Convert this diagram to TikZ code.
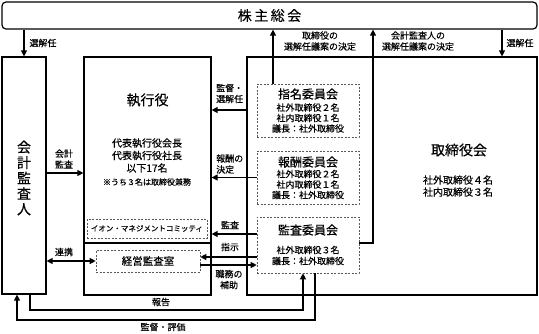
\documentclass[tikz,border=0pt]{standalone}
\usepackage{fontspec}
\setmainfont{Noto Sans CJK JP}[FakeBold=0.35]
\usetikzlibrary{arrows.meta}
\tikzset{
  box/.style={draw, line width=1.2pt, inner sep=0pt},
  dbox/.style={draw=black!65, dash pattern=on 2pt off 1.5pt, line width=0.6pt, inner sep=0pt},
  arr/.style={line width=1.2pt, -{Triangle[length=6pt,width=6pt]}},
  darr/.style={line width=1.2pt, {Triangle[length=6pt,width=6pt]}-{Triangle[length=6pt,width=6pt]}},
  lbl/.style={font=\fontsize{9}{11}\selectfont, align=center, inner sep=0pt},
  ttl/.style={font=\fontsize{14}{16}\selectfont, inner sep=0pt},
  cttl/.style={font=\fontsize{12}{14}\selectfont, inner sep=0pt},
  cdet/.style={font=\fontsize{9}{10.5}\selectfont, align=center, inner sep=0pt},
}
\begin{document}
\begin{tikzpicture}[x=1pt,y=-1pt]
\useasboundingbox (0,0) rectangle (539,333);
% helper coordinates
\coordinate (x17) at (17,0);
\coordinate (x30) at (30,0);
\coordinate (x273) at (273,0);
\coordinate (x303) at (303,0);
\coordinate (x315) at (315,0);
\coordinate (x373) at (373,0);
\coordinate (x502) at (502,0);
\coordinate (y110) at (0,110);
\coordinate (y173) at (0,173);
\coordinate (y234) at (0,234);
\coordinate (y243) at (0,243);
\coordinate (y257) at (0,257);
\coordinate (y265) at (0,265);
\coordinate (y310) at (0,310);
\coordinate (y320) at (0,320);

% main boxes
\node[box, rounded corners=4pt, minimum width=535pt, minimum height=27pt,
      font=\fontsize{14}{16}\selectfont] (gm) at (269.5,15.5) {株\kern2.5pt 主\kern2.5pt 総\kern2.5pt 会};

\node[box, minimum width=44pt, minimum height=237pt] (aud) at (24,175.5) {};
\node[font=\fontsize{14}{15.5}\selectfont, align=center, inner sep=0pt] (audt) at (24,178) {会\\計\\監\\査\\人};

\node[box, minimum width=127pt, minimum height=238pt] (exec) at (147.5,176) {};
\draw[line width=1.2pt] (exec.west |- y243) -- (exec.east |- y243);
\node[ttl] (exect) at (147.5,100) {執行役};
\node[font=\fontsize{10}{12.5}\selectfont, align=center, inner sep=0pt] (execd) at (147,155.5) {代表執行役会長\\代表執行役社長\\以下17名};
\node[font=\fontsize{8}{10}\selectfont, inner sep=0pt] (execn) at (147,182) {※うち３名は取締役兼務};
\node[dbox, minimum width=120pt, minimum height=19pt, font=\fontsize{7.5}{9}\selectfont] (aeon) at (147,228.5) {イオン・マネジメントコミッティ};
\node[dbox, minimum width=104pt, minimum height=22pt, font=\fontsize{10.5}{12}\selectfont] (mao) at (148,261) {経営監査室};

\node[box, minimum width=290pt, minimum height=238pt] (board) at (392,176) {};
\node[ttl] (boardt) at (459,150) {取締役会};
\node[font=\fontsize{10}{12}\selectfont, align=center, inner sep=0pt] (boardd) at (458,186) {社外取締役４名\\社内取締役３名};

% committees
\node[dbox, minimum width=102pt, minimum height=53pt] (nom) at (308,110.5) {};
\node[cttl] (nomt) at (308,94) {指名委員会};
\node[cdet] (nomd) at (308,118) {社外取締役２名\\社内取締役１名\\議長：社外取締役};

\node[dbox, minimum width=102pt, minimum height=53pt] (rem) at (308,177.5) {};
\node[cttl] (remt) at (308,162) {報酬委員会};
\node[cdet] (remd) at (308,184.5) {社外取締役２名\\社内取締役１名\\議長：社外取締役};

\node[dbox, minimum width=102pt, minimum height=56pt] (audc) at (308,245) {};
\node[cttl] (audct) at (308,230) {監査委員会};
\node[font=\fontsize{9}{11}\selectfont, align=center, inner sep=0pt] (audcd) at (308,255.5) {社外取締役３名\\議長：社外取締役};

% connectors
\draw[arr] (aud.north |- gm.south) -- (aud.north);
\draw[arr] (x502 |- gm.south) -- (x502 |- board.north);
\draw[arr] (x273 |- nom.north) -- (x273 |- gm.south);
\draw[arr] (audc.east |- y243) -- (x373 |- y243) -- (x373 |- gm.south);
\draw[arr] (board.west |- y110) -- (exec.east |- y110);
\draw[arr] (rem.west) -- (exec.east |- rem.west);
\draw[arr] (audc.west |- y234) -- (exec.east |- y234);
\draw[arr] (audc.west |- y257) -- (mao.east |- y257);
\draw[arr] (mao.east |- y265) -- (audc.west |- y265);
\draw[arr] (aud.east |- y173) -- (exec.west |- y173);
\draw[darr] (aud.east |- mao.west) -- (mao.west);
\draw[arr] (x30 |- aud.south) -- (x30 |- y310) -- (x303 |- y310) -- (x303 |- audc.south);
\draw[arr] (x315 |- audc.south) -- (x315 |- y320) -- (x17 |- y320) -- (x17 |- aud.south);

% labels
\node[lbl] (l1) at (43,43) {選解任};
\node[lbl] (l2) at (520,43) {選解任};
\node[lbl] (l3) at (320,41) {取締役の\\選解任議案の決定};
\node[lbl] (l4) at (418,41) {会計監査人の\\選解任議案の決定};
\node[lbl, align=left, anchor=west] (l5) at (216,93.5) {監督・\\選解任};
\node[lbl, align=left, anchor=west] (l6) at (216,164) {報酬の\\決定};
\node[lbl] (l7) at (230,225) {監査};
\node[lbl] (l8) at (230,247) {指示};
\node[lbl] (l9) at (229,279.5) {職務の\\補助};
\node[lbl] (l10) at (64,159) {会計\\監査};
\node[lbl] (l11) at (64,252) {連携};
\node[lbl] (l12) at (161,302) {報告};
\node[lbl] (l13) at (163,327) {監督・評価};
\end{tikzpicture}
\end{document}
